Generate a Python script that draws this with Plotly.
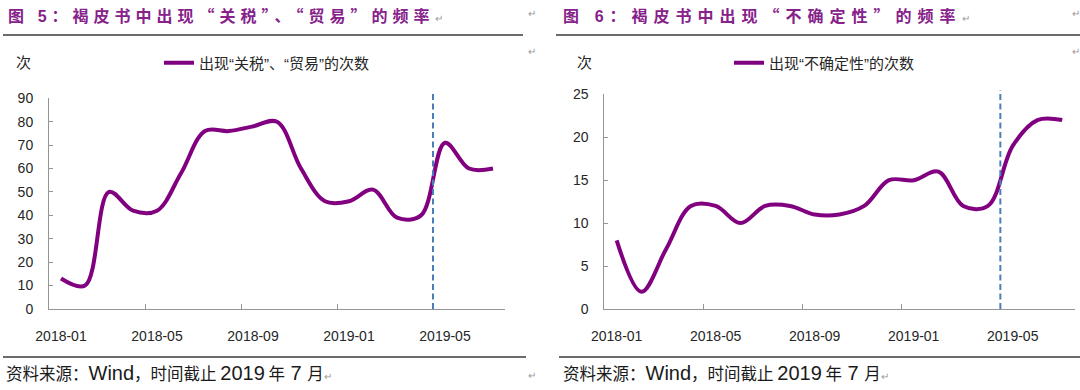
import plotly.graph_objects as go

# ---------------- data ----------------
months = ["2018-01", "2018-02", "2018-03", "2018-04", "2018-05", "2018-06",
          "2018-07", "2018-08", "2018-09", "2018-10", "2018-11", "2018-12",
          "2019-01", "2019-02", "2019-03", "2019-04", "2019-05", "2019-06",
          "2019-07"]
tariff_trade_counts = [13, 10, 50, 42, 42, 58, 76, 76, 78, 80, 60, 46,
                       46, 51, 39, 40, 71, 60, 60]
uncertainty_counts = [8, 2, 7, 12, 12, 10, 12, 12, 11, 11, 12, 15,
                      15, 16, 12, 12, 19, 22, 22]
left_yticks = list(range(0, 91, 10))
right_yticks = list(range(0, 26, 5))
label_step = 4
divider_after = "2019-04"   # dashed marker between 2019-04 and 2019-05

left_title = "图 5：褐皮书中出现“关税”、“贸易”的频率"
right_title = "图 6：褐皮书中出现“不确定性”的频率"
left_series = "出现“关税”、“贸易”的次数"
right_series = "出现“不确定性”的次数"
unit_label = "次"
source_note = "资料来源：Wind，时间截止 2019 年 7 月"

# ---------------- styling ----------------
W, H = 1080, 390
PURPLE = "#800080"
TITLE_PURPLE = "#86228A"
AXIS_GRAY = "#959595"
TEXT = "#262626"
DASH_BLUE = "#4A7EBB"
LATIN = "Liberation Sans, Arial, Noto Sans CJK SC, sans-serif"
CJK = "Noto Sans CJK SC, sans-serif"

def px(x):
    return x / W

def py(y):
    return 1 - y / H

idx = list(range(len(months)))
tickvals = idx[::label_step]
ticktext = months[::label_step]
minor_vals = [v - 0.5 for v in tickvals if v > 0]
divider_pos = months.index(divider_after) + 0.5

fig = go.Figure()
fig.add_trace(go.Scatter(
    x=idx, y=tariff_trade_counts, mode="lines", name=left_series,
    line=dict(color=PURPLE, width=4, shape="spline", smoothing=1),
    xaxis="x", yaxis="y", legend="legend", hoverinfo="skip"))
fig.add_trace(go.Scatter(
    x=idx, y=uncertainty_counts, mode="lines", name=right_series,
    line=dict(color=PURPLE, width=4, shape="spline", smoothing=1),
    xaxis="x2", yaxis="y2", legend="legend2", hoverinfo="skip"))

tickfont = dict(family=LATIN, size=14, color=TEXT)

def xaxis_cfg(domain, anchor):
    return dict(domain=domain, anchor=anchor, range=[-0.5, len(months) - 0.5],
                tickmode="array", tickvals=tickvals, ticktext=ticktext,
                ticks="", showline=True, linecolor=AXIS_GRAY, linewidth=1,
                showgrid=False, zeroline=False, tickfont=tickfont,
                ticklabelstandoff=14, automargin=False,
                minor=dict(tickmode="array", tickvals=minor_vals, ticks="inside",
                           ticklen=5, tickcolor=AXIS_GRAY, tickwidth=1, showgrid=False),
                fixedrange=True)

def yaxis_cfg(domain, anchor, ticksv):
    return dict(domain=domain, anchor=anchor, range=[ticksv[0], ticksv[-1]],
                tickmode="array", tickvals=ticksv, ticks="inside", ticklen=4,
                tickcolor=AXIS_GRAY, showline=True, linecolor=AXIS_GRAY,
                linewidth=1, showgrid=False, zeroline=False, tickfont=tickfont,
                ticklabelstandoff=12, automargin=False, fixedrange=True)

fig.update_layout(
    template="none",
    width=W, height=H, autosize=False,
    margin=dict(l=0, r=0, t=0, b=0, pad=0, autoexpand=False),
    paper_bgcolor="white", plot_bgcolor="white",
    xaxis=xaxis_cfg([px(49), px(505)], "y"),
    yaxis=yaxis_cfg([py(309), py(98.3)], "x", left_yticks),
    xaxis2=xaxis_cfg([px(604.3), px(1074.6)], "y2"),
    yaxis2=yaxis_cfg([py(309), py(94.3)], "x2", right_yticks),
    legend=dict(x=px(159), y=py(63), xanchor="left", yanchor="middle",
                bgcolor="rgba(0,0,0,0)", font=dict(family=LATIN, size=15, color=TEXT),
                itemwidth=30),
    legend2=dict(x=px(729), y=py(63), xanchor="left", yanchor="middle",
                 bgcolor="rgba(0,0,0,0)", font=dict(family=LATIN, size=15, color=TEXT),
                 itemwidth=30),
    showlegend=True,
)

shapes = []
# divider dashed lines
for xr, yr, top in (("x", "y domain", 1.032), ("x2", "y2 domain", 1.02)):
    shapes.append(dict(type="line", xref=xr, yref=yr,
                       x0=divider_pos, x1=divider_pos, y0=0, y1=top,
                       line=dict(color=DASH_BLUE, width=2, dash="6px,3.5px")))
# document rules
for x0, x1 in ((3, 523), (556, 1080)):
    shapes.append(dict(type="line", xref="paper", yref="paper",
                       x0=px(x0), x1=px(x1), y0=py(35), y1=py(35),
                       line=dict(color="#3A3A3A", width=1.3)))
for x0, x1 in ((3, 526), (559, 1080)):
    shapes.append(dict(type="line", xref="paper", yref="paper",
                       x0=px(x0), x1=px(x1), y0=py(357), y1=py(357),
                       line=dict(color="#3A3A3A", width=1.3)))
fig.update_layout(shapes=shapes)

RET = '<span style="font-size:10px;fill:#9a9a9a;letter-spacing:0px">↵</span>'

def title_html(t, spacing):
    head, rest = t.split(" ", 1)
    num, tail = rest[0], rest[1:]
    return ('<span style="letter-spacing:%dpx"><b>' % spacing + head + ' </b>'
            '<span style="font-family:Liberation Sans, Arial;font-weight:bold">' + num + '</span>'
            '<b>' + tail + '</b></span>' + RET)

def source_html(t):
    out = ""
    for tok in t.replace("Wind", "|Wind|").replace("2019", "|2019|").replace(" 7 ", "| 7 |").split("|"):
        if tok in ("Wind", "2019", " 7 "):
            out += '<span style="font-family:Liberation Sans, Arial;font-size:20px">' + tok + '</span>'
        else:
            out += tok
    return out + RET

annotations = []
for x, txt, sp in ((6, left_title, 5), (561, right_title, 6)):
    annotations.append(dict(xref="paper", yref="paper", x=px(x), y=py(15),
                            xanchor="left", yanchor="middle", showarrow=False,
                            text=title_html(txt, sp),
                            font=dict(family=CJK, size=16, color=TITLE_PURPLE)))
for x in (23, 584):
    annotations.append(dict(xref="paper", yref="paper", x=px(x), y=py(62),
                            xanchor="center", yanchor="middle", showarrow=False,
                            text=unit_label, font=dict(family=CJK, size=15, color=TEXT)))
for x in (4, 561):
    annotations.append(dict(xref="paper", yref="paper", x=px(x), y=py(373),
                            xanchor="left", yanchor="middle", showarrow=False,
                            text=source_html(source_note),
                            font=dict(family=CJK, size=16.5, color="#1a1a1a")))
for x, y in ((526, 14), (526, 52), (526, 375), (1070, 14), (1070, 52)):
    annotations.append(dict(xref="paper", yref="paper", x=px(x), y=py(y),
                            xanchor="left", yanchor="middle", showarrow=False,
                            text="↵", font=dict(family=LATIN, size=10, color="#9a9a9a")))
fig.update_layout(annotations=annotations)

fig.write_html("out.html",
               config={"displayModeBar": False, "staticPlot": True},
               post_script="document.body.style.margin='0px';"
                           "document.body.style.overflow='hidden';")
